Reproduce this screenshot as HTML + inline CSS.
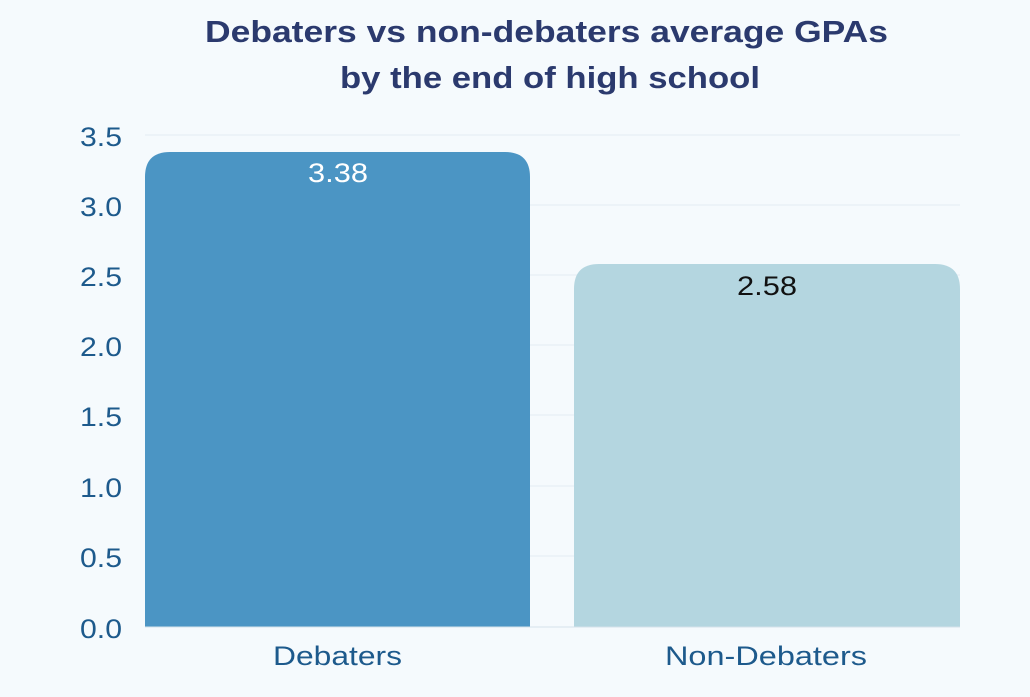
<!DOCTYPE html>
<html><head><style>
body{margin:0;width:1030px;height:692px;background:#f5fafd;font-family:"Liberation Sans",sans-serif;overflow:hidden}
</style></head><body>
<svg width="1030" height="692" xmlns="http://www.w3.org/2000/svg">
<rect width="1030" height="692" fill="#f5fafd"/>
<g font-family="Liberation Sans, sans-serif" font-weight="bold" font-size="31" fill="#2b3a6e">
<text x="205" y="42" textLength="683" lengthAdjust="spacingAndGlyphs">Debaters vs non-debaters average GPAs</text>
<text x="340" y="88" textLength="420" lengthAdjust="spacingAndGlyphs">by the end of high school</text>
</g>
<g stroke="#e3ecf2" stroke-width="1">
<line x1="145" x2="960" y1="135" y2="135"/>
<line x1="145" x2="960" y1="205" y2="205"/>
<line x1="145" x2="960" y1="275" y2="275"/>
<line x1="145" x2="960" y1="345" y2="345"/>
<line x1="145" x2="960" y1="415" y2="415"/>
<line x1="145" x2="960" y1="486" y2="486"/>
<line x1="145" x2="960" y1="556" y2="556"/>
</g>
<path d="M145 627 V177 Q145 152 170 152 H505 Q530 152 530 177 V627 Z" fill="#4b95c4"/>
<path d="M574 627 V289 Q574 264 599 264 H935 Q960 264 960 289 V627 Z" fill="#b4d6e0"/>
<line x1="145" x2="960" y1="627" y2="627" stroke="#d5e2ea"/>
<g font-size="27" fill="#1d5a8c">
<text x="80" y="146" textLength="42" lengthAdjust="spacingAndGlyphs">3.5</text>
<text x="80" y="216" textLength="42" lengthAdjust="spacingAndGlyphs">3.0</text>
<text x="80" y="286" textLength="42" lengthAdjust="spacingAndGlyphs">2.5</text>
<text x="80" y="356" textLength="42" lengthAdjust="spacingAndGlyphs">2.0</text>
<text x="80" y="426" textLength="42" lengthAdjust="spacingAndGlyphs">1.5</text>
<text x="80" y="497" textLength="42" lengthAdjust="spacingAndGlyphs">1.0</text>
<text x="80" y="567" textLength="42" lengthAdjust="spacingAndGlyphs">0.5</text>
<text x="80" y="638" textLength="42" lengthAdjust="spacingAndGlyphs">0.0</text>
</g>
<g font-size="27" fill="#1d5a8c">
<text x="273" y="665" textLength="129" lengthAdjust="spacingAndGlyphs">Debaters</text>
<text x="665" y="665" textLength="202" lengthAdjust="spacingAndGlyphs">Non-Debaters</text>
</g>
<g font-size="27">
<text x="308" y="182" fill="#ffffff" textLength="60" lengthAdjust="spacingAndGlyphs">3.38</text>
<text x="737" y="295" fill="#111" textLength="60" lengthAdjust="spacingAndGlyphs">2.58</text>
</g>
</svg>
</body></html>
